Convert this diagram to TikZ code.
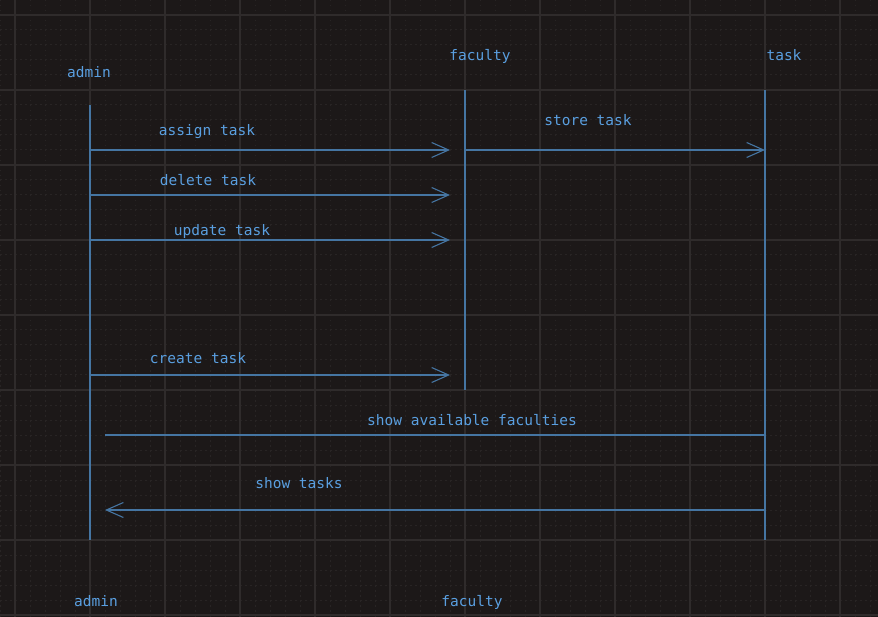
\documentclass[tikz,border=0pt]{standalone}
\usepackage{fontspec}
\setmonofont{DejaVu Sans Mono}
\usetikzlibrary{arrows.meta}
\definecolor{bgc}{HTML}{1C1818}
\definecolor{majorc}{HTML}{2F2B2B}
\definecolor{minorc}{HTML}{282424}
\definecolor{linec}{HTML}{4575A2}
\definecolor{textc}{HTML}{5A9FE0}
\tikzset{
  lbl/.style={text=textc, font=\ttfamily\fontsize{14.5}{16}\selectfont, inner sep=0pt, anchor=base},
  life/.style={draw=linec, line width=1.2pt},
  msg/.style={draw=linec, line width=1.2pt, -{Straight Barb[length=17pt,width=15pt,line width=1.1pt]}},
  plainmsg/.style={draw=linec, line width=1.2pt},
}
\begin{document}
\begin{tikzpicture}[x=1pt,y=-1pt]
\fill[bgc] (0,0) rectangle (878,617);
\useasboundingbox (0,0) rectangle (878,617);
% minor dotted grid
\foreach \i in {0,...,58} {
  \draw[minorc, line width=1pt, dash pattern=on 1.5pt off 3.5pt] (\i*15,0) -- (\i*15,617);
}
\foreach \j in {0,...,41} {
  \draw[minorc, line width=1pt, dash pattern=on 1.5pt off 3.5pt] (0,\j*15) -- (878,\j*15);
}
% major grid
\foreach \i in {0,...,11} {
  \draw[majorc, line width=1.6pt] (15+\i*75,0) -- (15+\i*75,617);
}
\foreach \j in {0,...,8} {
  \draw[majorc, line width=1.6pt] (0,15+\j*75) -- (878,15+\j*75);
}
% labels
\node[lbl] (adminTop) at (89,78) {admin};
\node[lbl] (facTop) at (480,61) {faculty};
\node[lbl] (taskTop) at (784,61) {task};
\node[lbl] (adminBot) at (96,606) {admin};
\node[lbl] (facBot) at (472,606) {faculty};
% lifelines
\coordinate (a0) at (90,105); \coordinate (a1) at (90,540);
\coordinate (f0) at (465,90); \coordinate (f1) at (465,390);
\coordinate (t0) at (765,90); \coordinate (t1) at (765,540);
\draw[life] (a0) -- (a1);
\draw[life] (f0) -- (f1);
\draw[life] (t0) -- (t1);
% messages
\coordinate (m1s) at (90,150); \coordinate (m1e) at (450,150);
\coordinate (m2s) at (465,150); \coordinate (m2e) at (765,150);
\coordinate (m3s) at (90,195); \coordinate (m3e) at (450,195);
\coordinate (m4s) at (90,240); \coordinate (m4e) at (450,240);
\coordinate (m5s) at (90,375); \coordinate (m5e) at (450,375);
\coordinate (m6s) at (765,435); \coordinate (m6e) at (105,435);
\coordinate (m7s) at (765,510); \coordinate (m7e) at (105,510);
\draw[msg] (m1s) -- (m1e);
\draw[msg] (m2s) -- (m2e);
\draw[msg] (m3s) -- (m3e);
\draw[msg] (m4s) -- (m4e);
\draw[msg] (m5s) -- (m5e);
\draw[plainmsg] (m6s) -- (m6e);
\draw[msg] (m7s) -- (m7e);
\node[lbl] (l1) at (207,136) {assign task};
\node[lbl] (l2) at (588,126) {store task};
\node[lbl] (l3) at (208,186) {delete task};
\node[lbl] (l4) at (222,236) {update task};
\node[lbl] (l5) at (198,363) {create task};
\node[lbl] (l6) at (472,425) {show available faculties};
\node[lbl] (l7) at (299,488) {show tasks};
\end{tikzpicture}
\end{document}
